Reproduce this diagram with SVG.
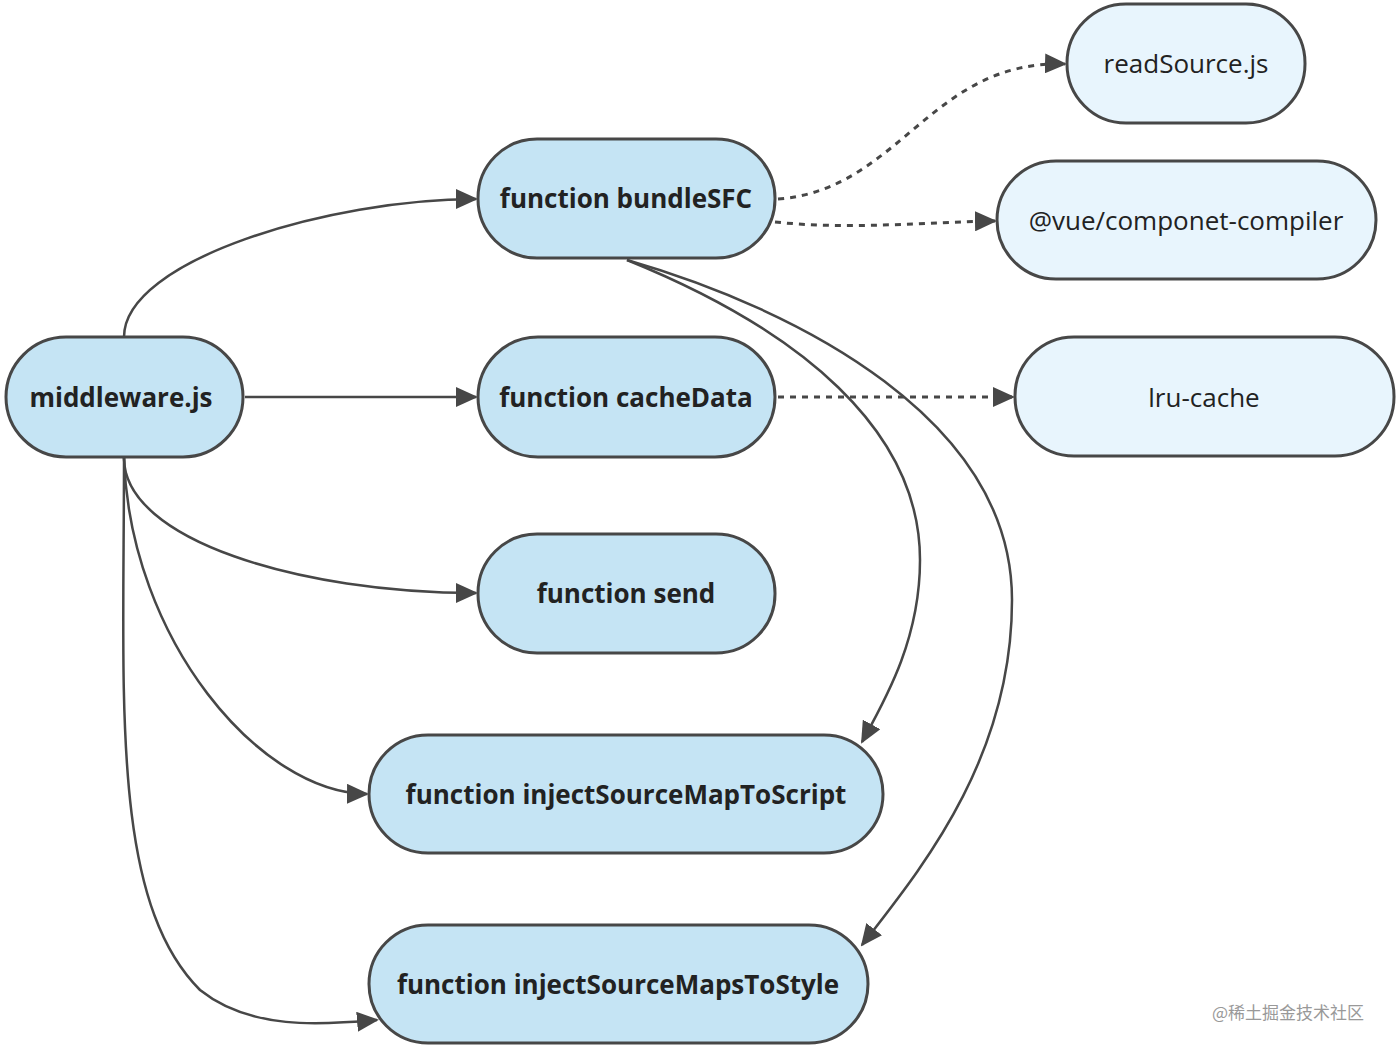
<svg xmlns="http://www.w3.org/2000/svg" width="1400" height="1048" viewBox="0 0 1400 1048">
<style>
.n rect{fill:#c5e4f4;stroke:#474747;stroke-width:3}
.l rect{fill:#e8f5fd}
text{font-family:"Open Sans","Noto Sans",sans-serif;font-size:26px;fill:#222;text-anchor:middle;dominant-baseline:central}
.b text{font-weight:bold}
.e path{fill:none;stroke:#474747;stroke-width:2.5}
.e .d{stroke-dasharray:6 6;stroke-width:3}
.w{font-family:"Noto Sans CJK SC",sans-serif;font-size:17px;fill:#999;text-anchor:start}
</style>
<defs><marker id="a" markerUnits="userSpaceOnUse" markerWidth="22" markerHeight="20" refX="20" refY="10" orient="auto"><path d="M0,0 L22,10 L0,20 Z" fill="#474747"/></marker></defs>
<g class="e">
<path marker-end="url(#a)" d="M124,337 C124,260 330,199 476,199"/>
<path marker-end="url(#a)" d="M245,397 L476,397"/>
<path marker-end="url(#a)" d="M124,458 C124,540 300,593 476,593"/>
<path marker-end="url(#a)" d="M124,458 C130,640 260,793 367,794"/>
<path marker-end="url(#a)" d="M124,458 C124,700 110,900 200,990 C250,1030 320,1025 377,1020"/>
<path marker-end="url(#a)" d="M627,260 C800,330 920,430 920,560 C920,640 885,700 862,742"/>
<path marker-end="url(#a)" d="M627,260 C800,310 1012,420 1012,600 C1012,760 920,870 862,945"/>
<path class="d" marker-end="url(#a)" d="M778,199 C900,190 930,60 1065,64"/>
<path class="d" marker-end="url(#a)" d="M775,222 C850,230 930,222 995,221"/>
<path class="d" marker-end="url(#a)" d="M778,397 L1013,397"/>
</g>
<g id="middleware" class="n b"><rect x="6" y="337" width="237" height="120" rx="60"/><text x="121" y="397">middleware.js</text></g>
<g id="bundleSFC" class="n b"><rect x="478" y="139" width="297" height="119" rx="59"/><text x="626" y="198">function bundleSFC</text></g>
<g id="cacheData" class="n b"><rect x="478" y="337" width="297" height="120" rx="60"/><text x="626" y="397">function cacheData</text></g>
<g id="send" class="n b"><rect x="478" y="534" width="297" height="119" rx="59"/><text x="626" y="593">function send</text></g>
<g id="script" class="n b"><rect x="369" y="735" width="514" height="118" rx="59"/><text x="626" y="794">function injectSourceMapToScript</text></g>
<g id="style" class="n b"><rect x="369" y="925" width="499" height="118" rx="59"/><text x="618" y="984">function injectSourceMapsToStyle</text></g>
<g id="readSource" class="n l"><rect x="1067" y="4" width="238" height="119" rx="59"/><text x="1186" y="63">readSource.js</text></g>
<g id="compiler" class="n l"><rect x="997" y="161" width="379" height="118" rx="59"/><text x="1186" y="220">@vue/componet-compiler</text></g>
<g id="lru" class="n l"><rect x="1015" y="337" width="379" height="119" rx="59"/><text x="1204" y="397">lru-cache</text></g>
<text class="w" x="1212" y="1011">@稀土掘金技术社区</text>
</svg>
